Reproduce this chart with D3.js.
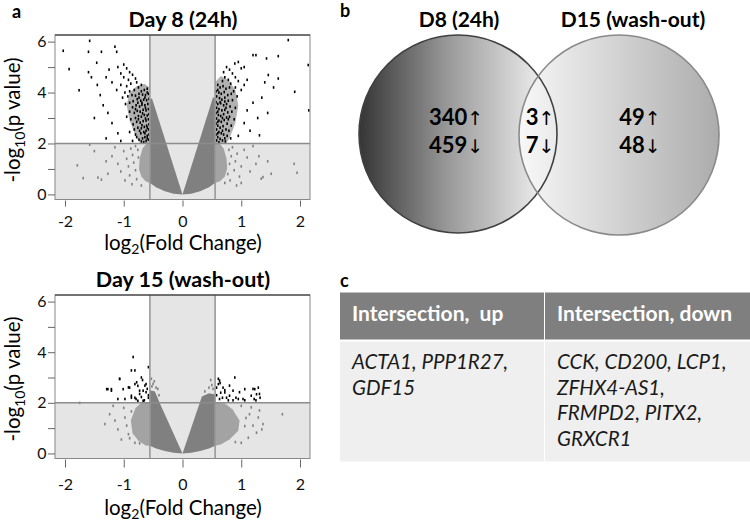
<!DOCTYPE html>
<html><head><meta charset="utf-8">
<script src="https://cdn.jsdelivr.net/npm/d3@7"></script>
<style>body{margin:0;background:#fff}svg{display:block}text{font-family:Lato,"Open Sans",sans-serif}</style>
</head><body>
<svg id="fig" width="750" height="523"></svg>
<script>
// ---------------- DATA ----------------
const xTicks = [-2, -1, 0, 1, 2];
const yTicks = [0, 1, 2, 3, 4, 5, 6];
const yTickLabels = ["0", "", "2", "", "4", "", "6"];
const fcThreshold = 0.555;   // log2 fold-change cut-off
const pThreshold = 2;        // -log10 p cut-off
const panelTitles = ["Day 8 (24h)", "Day 15 (wash-out)"];

// dense non-significant mass (outline of the V-shaped cloud), Day 8
const core8Left = [[0,0],[-0.52,3.78],[-0.555,3.72],[-0.555,0.45],[-0.45,0.28],[-0.3,0.12],[-0.15,0.03]];
const core8Right = [[0,0],[0.52,3.82],[0.555,3.78],[0.555,0.45],[0.45,0.28],[0.3,0.12],[0.15,0.03]];
const halo8Left = [[-0.555,2.0],[-0.62,1.98],[-0.68,1.8],[-0.73,1.4],[-0.74,1.0],[-0.7,0.7],[-0.63,0.52],[-0.555,0.45]];
const halo8Right = [[0.555,2.0],[0.64,1.98],[0.7,1.8],[0.75,1.4],[0.76,1.0],[0.72,0.7],[0.64,0.52],[0.555,0.45]];
// dense significant clusters (outline), Day 8
const dense8Left = [[-0.555,2.0],[-0.555,4.2],[-0.65,4.35],[-0.78,4.25],[-0.9,4.0],[-0.95,3.5],[-0.9,2.9],[-0.8,2.3],[-0.72,2.0]];
const dense8Right = [[0.555,2.0],[0.555,4.4],[0.65,4.65],[0.78,4.5],[0.9,4.1],[0.95,3.5],[0.9,2.8],[0.8,2.2],[0.74,2.0]];
// Day 15
const core15Left = [[0,0],[-0.38,1.95],[-0.47,2.45],[-0.555,2.5],[-0.555,0.3],[-0.45,0.2],[-0.3,0.1],[-0.15,0.03]];
const core15Right = [[0,0],[0.33,2.25],[0.45,2.38],[0.555,2.33],[0.555,0.3],[0.45,0.2],[0.3,0.1],[0.15,0.03]];
const halo15Left = [[-0.555,2.0],[-0.7,2.0],[-0.8,1.8],[-0.88,1.3],[-0.85,0.8],[-0.75,0.5],[-0.62,0.3],[-0.555,0.3]];
const halo15Right = [[0.555,2.0],[0.72,1.97],[0.85,1.75],[0.97,1.3],[0.95,0.9],[0.8,0.55],[0.65,0.35],[0.555,0.3]];

// significant genes (black), Day 8
const sig8Left = [[-2.03,5.64],[-1.93,4.92],[-1.76,4.09],[-1.58,6.03],[-1.6,5.6],[-1.38,5.6],[-1.46,5.17],[-1.15,5.8],[-1.12,5.6],[-1.6,4.8],[-1.55,4.6],[-1.45,4.3],[-1.4,3.9],[-1.3,4.6],[-1.25,4.9],[-1.2,4.4],[-1.35,3.5],[-1.27,3.2],[-1.5,3.0],[-1.2,2.8],[-1.1,2.4],[-1.3,2.2],[-1.05,2.1],
[-1.1,5.0],[-1.0,5.1],[-0.95,4.95],[-1.05,4.75],[-0.9,4.8],[-0.85,4.7],[-1.0,4.6],[-0.92,4.5],[-0.8,4.55],[-0.78,4.4],[-0.88,4.35],[-1.05,4.3],[-0.95,4.25],[-1.12,4.1],[-0.7,4.3],[-0.75,4.2],
[-0.6,4.15],[-0.65,4.1],[-0.7,4.05],[-0.82,4.1],[-0.9,4.05],[-0.98,4.0],[-0.58,3.95],[-0.63,3.9],[-0.68,3.92],[-0.74,3.95],[-0.8,3.88],[-0.86,3.9],[-0.93,3.85],[-1.02,3.8],[-0.57,3.75],[-0.61,3.7],[-0.66,3.72],[-0.71,3.68],[-0.77,3.74],[-0.84,3.66],[-0.9,3.6],[-0.97,3.55],[-0.59,3.55],[-0.64,3.5],[-0.69,3.52],[-0.73,3.45],[-0.79,3.5],[-0.85,3.42],[-0.58,3.35],[-0.62,3.3],[-0.67,3.32],[-0.72,3.25],[-0.77,3.28],[-0.82,3.2],[-0.9,3.25],[-0.57,3.15],[-0.6,3.1],[-0.65,3.12],[-0.7,3.05],[-0.75,3.08],[-0.8,3.0],[-0.88,2.95],[-0.95,3.05],[-0.58,2.95],[-0.62,2.9],[-0.67,2.88],[-0.72,2.82],[-0.78,2.85],[-0.84,2.75],[-0.57,2.75],[-0.61,2.7],[-0.65,2.65],[-0.7,2.6],[-0.76,2.62],[-0.82,2.55],[-0.58,2.55],[-0.62,2.5],[-0.66,2.45],[-0.71,2.4],[-0.8,2.35],[-0.9,2.45],[-0.57,2.35],[-0.6,2.3],[-0.64,2.25],[-0.68,2.2],[-0.74,2.15],[-0.58,2.15],[-0.62,2.1],[-0.66,2.05],[-0.7,2.08],[-0.85,2.1],[-0.6,4.0],[-0.64,3.8],[-0.69,3.6],[-0.63,3.4],[-0.68,3.18],[-0.63,2.98],[-0.69,2.72],[-0.6,2.62],[-0.64,2.4],[-0.6,2.2],[-0.74,3.8],[-0.76,3.6],[-0.8,3.35],[-0.75,2.95],[-0.73,2.5],[-0.78,2.25]];
const sig8Right = [[1.8,6.06],[1.63,5.43],[1.43,5.34],[1.2,5.47],[1.25,5.47],[1.91,4.03],[1.63,4.55],[1.46,4.69],[1.31,2.32],[2.14,5.08],[2.15,3.3],[1.55,4.2],[1.4,4.4],[1.35,3.8],[1.2,3.6],[1.1,3.3],[1.28,3.0],[1.05,2.8],[1.15,2.5],[1.45,3.2],[0.95,5.2],[0.89,5.14],[1.0,4.95],[1.05,5.0],
[0.7,4.8],[0.75,5.0],[0.8,4.9],[0.85,4.75],[0.9,4.6],[0.72,4.6],[0.78,4.5],[0.95,4.45],[1.05,4.3],[0.68,4.45],[0.82,4.35],[0.9,4.2],[1.0,4.1],[1.1,4.5],
[0.6,4.3],[0.64,4.2],[0.69,4.25],[0.74,4.15],[0.8,4.2],[0.87,4.05],[0.57,4.05],[0.62,4.0],[0.66,3.95],[0.71,4.02],[0.77,3.9],[0.83,3.95],[0.93,3.85],[0.58,3.85],[0.63,3.78],[0.67,3.72],[0.72,3.8],[0.78,3.68],[0.85,3.7],[0.57,3.62],[0.6,3.55],[0.65,3.58],[0.7,3.5],[0.75,3.55],[0.81,3.45],[0.9,3.4],[0.58,3.4],[0.62,3.35],[0.67,3.3],[0.72,3.32],[0.77,3.22],[0.84,3.25],[0.57,3.2],[0.61,3.12],[0.65,3.08],[0.7,3.15],[0.75,3.02],[0.8,3.05],[0.88,2.95],[0.58,2.98],[0.62,2.9],[0.66,2.85],[0.71,2.92],[0.76,2.78],[0.83,2.7],[0.57,2.78],[0.6,2.7],[0.64,2.62],[0.69,2.68],[0.74,2.55],[0.79,2.5],[0.58,2.55],[0.62,2.45],[0.66,2.4],[0.7,2.35],[0.76,2.3],[0.57,2.35],[0.6,2.25],[0.64,2.18],[0.68,2.12],[0.73,2.08],[0.58,2.12],[0.62,2.05],[0.82,2.2],[0.95,2.3],[0.6,4.1],[0.64,3.62],[0.6,3.25],[0.68,3.0],[0.6,2.85],[0.68,2.5],[0.6,2.4],[0.72,3.65],[0.74,3.4],[0.78,2.95],[0.72,2.2]];
// scattered non-significant genes (grey), Day 8
const non8 = [[-1.79,1.14],[-1.69,0.64],[-1.44,0.66],[-1.27,0.81],[-1.38,0.58],[-1.2,1.5],[-1.1,1.2],[-1.05,0.9],[-1.0,1.7],[-0.95,1.4],[-0.92,1.1],[-0.9,0.75],[-0.88,1.8],[-0.85,1.55],[-0.83,1.25],[-0.8,0.95],[-0.8,1.9],[-0.78,0.6],[-0.76,1.75],[-0.75,1.45],[-1.15,1.85],[-1.3,1.3],[-0.98,0.55],[-0.86,0.4],[-0.7,0.35],[-1.5,1.7],[-1.58,1.95],
[1.51,0.81],[1.37,0.68],[1.34,0.62],[1.25,1.2],[1.15,0.9],[1.1,1.45],[1.05,1.75],[1.0,1.1],[0.97,0.7],[0.93,1.6],[0.9,1.3],[0.88,0.95],[0.85,1.85],[0.83,1.5],[0.81,0.55],[0.8,1.2],[0.79,1.75],[0.77,0.8],[1.2,1.9],[1.3,1.5],[1.45,1.3],[1.95,0.85],[1.9,1.2],[0.72,0.45],[1.0,0.45],[0.92,0.35]];

// Day 15
const sig15Left = [[-0.84,3.81],[-0.87,3.28],[-0.81,3.28],[-0.58,3.41],[-1.07,2.95],[-1.27,2.54],[-1.21,2.54],[-1.01,2.54],[-0.92,2.61],[-0.78,2.81],[-0.73,2.48],[-0.64,2.68],[-0.62,2.42],[-1.1,2.15],[-0.87,2.28],[-0.81,2.2],[-0.7,2.23],[-0.76,2.08],[-0.58,2.2],[-0.67,2.08],[-1.29,2.54],[-1.21,2.48],[-1.07,2.94],[-0.9,2.6],[-0.81,2.74],[-0.76,2.67],[-0.73,2.35],[-0.67,2.48],[-0.62,2.74],[-0.58,2.3],[-0.87,2.2],[-0.98,2.15],[-0.79,2.15],[-0.65,2.1],[-0.7,3.0],[-0.6,2.55],[-0.68,2.9]];
const sig15Right = [[0.61,2.74],[0.63,2.88],[0.69,2.6],[0.72,2.41],[0.75,2.2],[0.8,2.68],[0.86,2.48],[0.89,3.0],[0.91,2.2],[0.97,2.42],[1.03,2.15],[1.17,2.28],[1.2,2.55],[1.22,2.15],[1.29,2.6],[1.31,2.35],[1.32,2.2],[0.63,2.15],[0.58,2.6],[0.65,2.4],[0.78,2.1],[1.06,2.1],[1.25,2.1],[0.86,2.1],[0.61,2.95],[0.64,2.78],[1.06,2.54],[1.23,2.54],[1.26,2.34],[0.72,2.5],[0.8,2.28],[0.95,2.15],[0.58,2.3],[0.68,2.2]];
const non15 = [[-1.75,2.0],[-1.32,1.16],[-1.24,1.55],[-1.18,1.88],[-1.1,0.95],[-1.04,0.55],[-0.98,1.42],[-0.92,0.76],[-0.87,1.66],[-0.81,0.42],[-0.73,0.4],[-0.95,1.1],[-1.0,1.8],[-0.9,0.6],[-1.15,1.3],
[-0.53,2.95],[-0.5,2.75],[-0.45,2.6],[-0.52,2.65],[-0.42,2.55],[-0.48,2.85],[-0.4,2.3],
[1.7,1.55],[1.37,1.16],[1.29,1.42],[1.26,0.82],[1.14,1.55],[1.12,0.62],[1.06,1.08],[1.0,1.88],[1.17,1.82],[1.0,0.42],[1.31,1.7],[1.2,1.1],[1.08,1.4],[0.9,0.45],[1.35,0.95],
[0.5,2.7],[0.45,2.6],[0.52,2.55],[0.38,2.45],[0.48,2.9]];

// Venn counts
const vennSets = ["D8 (24h)", "D15 (wash-out)"];
const vennUp = [340, 3, 49];
const vennDown = [459, 7, 48];
// Table
const tableHeaders = ["Intersection,  up", "Intersection, down"];
const tableUp = ["ACTA1, PPP1R27,", "GDF15"];
const tableDown = ["CCK, CD200, LCP1,", "ZFHX4-AS1,", "FRMPD2, PITX2,", "GRXCR1"];

// ---------------- DRAW ----------------
const svg = d3.select("#fig");
const shade = "#e5e5e5", massGrey = "#808080";

function volcano(cfg) {
  const g = svg.append("g");
  const x = d3.scaleLinear().domain([-2.17, 2.17]).range([55, 310]);
  const y = d3.scaleLinear().domain([-0.2, 6.26]).range([cfg.bottom, cfg.top]);
  const clipId = "clip" + cfg.id;
  svg.append("clipPath").attr("id", clipId).append("rect")
    .attr("x", 55).attr("y", cfg.top).attr("width", 255).attr("height", cfg.bottom - cfg.top);
  const pg = g.append("g").attr("clip-path", `url(#${clipId})`);
  pg.append("rect").attr("x", x(-fcThreshold)).attr("y", cfg.top)
    .attr("width", x(fcThreshold) - x(-fcThreshold)).attr("height", cfg.bottom - cfg.top).attr("fill", shade);
  pg.append("rect").attr("x", 55).attr("y", y(pThreshold))
    .attr("width", 255).attr("height", cfg.bottom - y(pThreshold)).attr("fill", shade);
  const line = d3.line().x(d => x(d[0])).y(d => y(d[1])).curve(d3.curveLinearClosed);
  cfg.halos.forEach(h => pg.append("path").attr("d", line(h)).attr("fill", massGrey).attr("opacity", 0.65));
  cfg.cores.forEach(c => pg.append("path").attr("d", line(c)).attr("fill", massGrey));
  cfg.dense.forEach(c => pg.append("path").attr("d", line(c)).attr("fill", "#000").attr("opacity", 0.3));
  pg.selectAll("rect.ns").data(cfg.non).join("rect").attr("class", "ns")
    .attr("x", d => x(d[0]) - 0.8).attr("y", d => y(d[1]) - 1.3).attr("width", 1.6).attr("height", 2.6).attr("fill", massGrey);
  pg.selectAll("rect.sig").data(cfg.sig).join("rect").attr("class", "sig")
    .attr("x", d => x(d[0]) - 0.8).attr("y", d => y(d[1]) - 1.3).attr("width", 1.6).attr("height", 2.6).attr("fill", "#000");
  // threshold lines
  [-fcThreshold, fcThreshold].forEach(v => pg.append("line").attr("x1", x(v)).attr("x2", x(v))
    .attr("y1", cfg.top).attr("y2", cfg.bottom).attr("stroke", "#999").attr("stroke-width", 1.6));
  pg.append("line").attr("x1", 55).attr("x2", 310).attr("y1", y(pThreshold)).attr("y2", y(pThreshold))
    .attr("stroke", "#8c8c8c").attr("stroke-width", 1.6);
  // frame
  g.append("rect").attr("x", 55).attr("y", cfg.top).attr("width", 255).attr("height", cfg.bottom - cfg.top)
    .attr("fill", "none").attr("stroke", "#888").attr("stroke-width", 1);
  g.append("line").attr("x1", 55).attr("x2", 310).attr("y1", cfg.top).attr("y2", cfg.top)
    .attr("stroke", "#222").attr("stroke-width", 1.2);
  // axes
  const ya = g.append("g").attr("transform", "translate(55,0)")
    .call(d3.axisLeft(y).tickValues(yTicks).tickFormat((d, i) => yTickLabels[i]).tickSize(7).tickPadding(1.5));
  const xa = g.append("g").attr("transform", `translate(0,${cfg.bottom + 1})`)
    .call(d3.axisBottom(x).tickValues(xTicks).tickFormat(d => d).tickSize(cfg.xTickLen).tickPadding(cfg.xPad));
  [ya, xa].forEach(a => {
    a.select(".domain").remove();
    a.selectAll("line").attr("stroke", "#666");
    a.selectAll("text").attr("font-size", 16).attr("fill", "#111").style("font-family", "Lato, sans-serif");
  });
  // titles
  g.append("text").attr("x", 183).attr("y", cfg.top - 8).attr("text-anchor", "middle")
    .attr("font-size", 21.5).attr("font-weight", "bold").text(cfg.title);
  const xl = g.append("text").attr("x", 183).attr("y", cfg.xLabelY).attr("text-anchor", "middle").attr("font-size", 20.5);
  xl.append("tspan").text("log");
  xl.append("tspan").attr("font-size", 14).attr("dy", 4).text("2");
  xl.append("tspan").attr("dy", -4).text("(Fold Change)");
  const yl = g.append("text").attr("transform", `translate(20,${cfg.yLabelC}) rotate(-90)`)
    .attr("text-anchor", "middle").attr("font-size", 20.5);
  yl.append("tspan").text("-log");
  yl.append("tspan").attr("font-size", 14).attr("dy", 5).text("10");
  yl.append("tspan").attr("dy", -5).text("(p value)");
}

volcano({id: 8, top: 35, bottom: 199.5, title: panelTitles[0], cores: [core8Left, core8Right], halos: [halo8Left, halo8Right],
  dense: [dense8Left, dense8Right],
  sig: sig8Left.concat(sig8Right), non: non8, xTickLen: 6, xPad: 9, xLabelY: 250, yLabelC: 120});
volcano({id: 15, top: 295, bottom: 458.5, title: panelTitles[1], cores: [core15Left, core15Right], halos: [halo15Left, halo15Right],
  dense: [],
  sig: sig15Left.concat(sig15Right), non: non15, xTickLen: 8, xPad: 11, xLabelY: 515, yLabelC: 379});

// panel letters
[["a", 12, 18], ["b", 340, 17], ["c", 340, 287]].forEach(([t, px, py]) =>
  svg.append("text").attr("x", px).attr("y", py).attr("font-size", 18).attr("font-weight", "bold").text(t));

// ---- Venn ----
const defs = svg.append("defs");
const gl = defs.append("linearGradient").attr("id", "gL").attr("x1", "0%").attr("x2", "100%").attr("y1", "0%").attr("y2", "0%");
gl.append("stop").attr("offset", "0%").attr("stop-color", "#353535");
gl.append("stop").attr("offset", "45%").attr("stop-color", "#999");
gl.append("stop").attr("offset", "100%").attr("stop-color", "#fafafa");
const gr = defs.append("linearGradient").attr("id", "gR").attr("x1", "0%").attr("x2", "100%").attr("y1", "0%").attr("y2", "0%");
gr.append("stop").attr("offset", "0%").attr("stop-color", "#f8f8f8");
gr.append("stop").attr("offset", "100%").attr("stop-color", "#acacac");

const venn = [{cx: 458, cy: 134, r: 99, fill: "url(#gL)", stroke: "#404040"},
              {cx: 619, cy: 135, r: 100, fill: "url(#gR)", stroke: "#8a8a8a"}];
svg.selectAll("circle.vf").data(venn).join("circle").attr("class", "vf")
  .attr("cx", d => d.cx).attr("cy", d => d.cy).attr("r", d => d.r).attr("fill", d => d.fill);
svg.selectAll("circle.vs").data(venn).join("circle").attr("class", "vs")
  .attr("cx", d => d.cx).attr("cy", d => d.cy).attr("r", d => d.r).attr("fill", "none")
  .attr("stroke", d => d.stroke).attr("stroke-width", 1.6);
svg.selectAll("text.vt").data(vennSets).join("text").attr("class", "vt")
  .attr("x", (d, i) => [459, 633][i]).attr("y", 27).attr("text-anchor", "middle")
  .attr("font-size", 21).attr("font-weight", "bold").text(d => d);
const countX = [456, 540, 640];
[[vennUp, "\u2191", 125], [vennDown, "\u2193", 153]].forEach(([vals, arrow, by]) => {
  vals.forEach((v, i) => {
    const t = svg.append("text").attr("x", countX[i]).attr("y", by).attr("text-anchor", "middle").attr("font-size", 22);
    t.append("tspan").attr("font-weight", "bold").text(v);
    t.append("tspan").attr("font-weight", "normal").style("font-family", "'DejaVu Sans', sans-serif")
      .attr("font-size", 19).text(arrow);
  });
});

// ---- Table ----
const colX = [340, 545], colW = [204, 205];
svg.selectAll("rect.th").data(tableHeaders).join("rect").attr("class", "th")
  .attr("x", (d, i) => colX[i]).attr("y", 292.5).attr("width", (d, i) => colW[i]).attr("height", 47).attr("fill", "#7f7f7f");
svg.selectAll("rect.tb").data(tableHeaders).join("rect").attr("class", "tb")
  .attr("x", (d, i) => colX[i]).attr("y", 341.5).attr("width", (d, i) => colW[i]).attr("height", 120).attr("fill", "#efefef");
svg.selectAll("text.thx").data(tableHeaders).join("text").attr("class", "thx")
  .attr("x", (d, i) => colX[i] + 12).attr("y", 321).attr("font-size", 21).attr("font-weight", "bold")
  .attr("fill", "#fff").style("white-space", "pre").text(d => d);
[tableUp, tableDown].forEach((lines, ci) => {
  svg.selectAll(null).data(lines).join("text")
    .attr("x", colX[ci] + 12).attr("y", (d, i) => 369 + i * 25.5)
    .attr("font-size", 20.5).attr("font-style", "italic").attr("fill", "#1a1a1a").text(d => d);
});
</script>
</body></html>
